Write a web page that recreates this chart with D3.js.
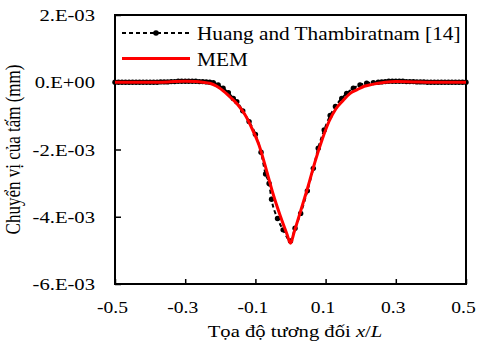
<!DOCTYPE html>
<html>
<head>
<meta charset="utf-8">
<script src="https://cdn.jsdelivr.net/npm/d3@7"></script>
<style>
  body { margin: 0; background: #fff; }
  text { font-family: "Liberation Serif", "Times New Roman", serif; fill: #000; }
</style>
</head>
<body>
<div id="chart"></div>
<script>
// values in units of 1E-03 mm
const memX = [-0.5, -0.45, -0.4, -0.35, -0.3, -0.27, -0.25, -0.23, -0.21, -0.19, -0.17, -0.15, -0.13, -0.11, -0.09, -0.07, -0.05, -0.03, -0.01, 0.0,
    0.01, 0.03, 0.05, 0.07, 0.09, 0.11, 0.13, 0.15, 0.17, 0.19, 0.21, 0.23, 0.25, 0.27, 0.3, 0.35, 0.4, 0.45, 0.5];
const memY = [0.0, 0.0, 0.0, 0.01, 0.03, 0.02, 0.0, -0.03, -0.12, -0.27, -0.46, -0.67, -0.96, -1.37, -1.86, -2.56, -3.31, -3.95, -4.52, -4.79,
    -4.47, -3.79, -3.10, -2.36, -1.71, -1.16, -0.78, -0.54, -0.33, -0.22, -0.12, -0.07, -0.03, 0.0, 0.02, 0.01, 0.0, 0.0, 0.0];

const huangX = [-0.50, -0.49, -0.48, -0.47, -0.46, -0.45, -0.44, -0.43, -0.42, -0.41, -0.40, -0.39, -0.38, -0.37, -0.36, -0.35, -0.34, -0.33, -0.32, -0.31,
    -0.30, -0.29, -0.28, -0.27, -0.26, -0.25, -0.24, -0.23, -0.220, -0.206, -0.192, -0.177, -0.163, -0.153, -0.136, -0.118, -0.100, -0.084, -0.071, -0.061,
    -0.054, -0.037, -0.021, 0.0, 0.013, 0.029, 0.048, 0.065, 0.079, 0.096, 0.113, 0.128, 0.146, 0.160, 0.179, 0.198, 0.217, 0.236,
    0.25, 0.26, 0.27, 0.28, 0.29, 0.30, 0.31, 0.32, 0.33, 0.34, 0.35, 0.36, 0.37, 0.38, 0.39, 0.40, 0.41, 0.42, 0.43, 0.44, 0.45, 0.46, 0.47, 0.48, 0.49, 0.50];
const huangY = [0.0, 0.0, 0.0, 0.0, 0.0, 0.0, 0.0, 0.0, 0.0, 0.0, 0.0, 0.0, 0.0, 0.01, 0.01, 0.01, 0.02, 0.02, 0.03, 0.03,
    0.03, 0.03, 0.03, 0.03, 0.02, 0.02, 0.01, 0.0, -0.01, -0.08, -0.18, -0.31, -0.48, -0.58, -0.85, -1.17, -1.55, -2.08, -2.73, -3.01,
    -3.48, -4.05, -4.39, -4.72, -4.34, -3.90, -3.23, -2.56, -1.96, -1.42, -0.99, -0.72, -0.48, -0.33, -0.18, -0.08, -0.03, -0.01,
    0.0, 0.01, 0.02, 0.03, 0.03, 0.03, 0.03, 0.03, 0.02, 0.02, 0.02, 0.01, 0.01, 0.01, 0.0, 0.0, 0.0, 0.0, 0.0, 0.0, 0.0, 0.0, 0.0, 0.0, 0.0, 0.0];

const xTicks = [-0.5, -0.3, -0.1, 0.1, 0.3, 0.5];
const xTickLabels = ["-0.5", "-0.3", "-0.1", "0.1", "0.3", "0.5"];
const yTicks = [2, 0, -2, -4, -6];
const yTickLabels = ["2.E-03", "0.E+00", "-2.E-03", "-4.E-03", "-6.E-03"];

const margin = { top: 15, right: 11, bottom: 67, left: 115 };
const W = 477, H = 351;
const width = W - margin.left - margin.right;
const height = H - margin.top - margin.bottom;
const stretch = 1.18; // text in the picture is a bit wide

const svg = d3.select("#chart").append("svg")
    .attr("width", W)
    .attr("height", H);
const g = svg.append("g").attr("transform", `translate(${margin.left}, ${margin.top})`);

const xScale = d3.scaleLinear().domain([-0.5, 0.5]).range([0, width]);
const yScale = d3.scaleLinear().domain([-6, 2]).range([height, 0]);

// axes with inward ticks
const xAxis = d3.axisBottom(xScale).tickValues(xTicks).tickSize(-5).tickSizeOuter(0).tickFormat((d, i) => xTickLabels[i]);
const yAxis = d3.axisLeft(yScale).tickValues(yTicks).tickSize(-6).tickSizeOuter(0).tickFormat((d, i) => yTickLabels[i]);

const gx = g.append("g").attr("transform", `translate(0, ${height})`).call(xAxis);
gx.selectAll("text")
    .attr("x", 0).attr("y", 29).attr("dy", 0)
    .attr("transform", `translate(-3,0) scale(1.12,1)`)
    .style("font-size", "17.5px");
const gy = g.append("g").call(yAxis);
gy.selectAll("text")
    .attr("x", -20 / stretch)
    .attr("transform", `scale(${stretch},1)`)
    .style("font-size", "17.5px");
g.selectAll(".domain").remove();
g.selectAll(".tick line").attr("stroke", "#000").attr("stroke-width", 1.5);

// frame
g.append("rect")
    .attr("width", width).attr("height", height)
    .attr("fill", "none").attr("stroke", "#000").attr("stroke-width", 2);

const huang = huangX.map((x, i) => ({ x, y: huangY[i] }));
const mem = memX.map((x, i) => ({ x, y: memY[i] }));

const line = d3.line().x(d => xScale(d.x)).y(d => yScale(d.y)).curve(d3.curveMonotoneX);

g.append("path").datum(huang)
    .attr("d", line)
    .attr("fill", "none").attr("stroke", "#000").attr("stroke-width", 2).attr("stroke-dasharray", "4,3");

g.selectAll(".dot").data(huang).enter().append("circle")
    .attr("class", "dot")
    .attr("cx", d => xScale(d.x))
    .attr("cy", d => yScale(d.y))
    .attr("r", 2.7)
    .attr("fill", "#000");

g.append("path").datum(mem)
    .attr("d", line)
    .attr("fill", "none").attr("stroke", "#ff0000").attr("stroke-width", 3);

// legend
const lg = svg.append("g");
lg.append("line").attr("x1", 122).attr("x2", 190).attr("y1", 33).attr("y2", 33)
    .attr("stroke", "#000").attr("stroke-width", 2).attr("stroke-dasharray", "4,3");
lg.append("circle").attr("cx", 156).attr("cy", 33).attr("r", 2.8).attr("fill", "#000");
lg.append("text").attr("transform", `translate(197, 39.5) scale(1.15,1)`)
    .style("font-size", "18.5px").text("Huang and Thambiratnam [14]");
lg.append("line").attr("x1", 122).attr("x2", 190).attr("y1", 58.5).attr("y2", 58.5)
    .attr("stroke", "#ff0000").attr("stroke-width", 3);
lg.append("text").attr("transform", `translate(197, 66) scale(1.15,1)`)
    .style("font-size", "18.5px").text("MEM");

// axis titles
svg.append("text")
    .attr("text-anchor", "middle")
    .attr("transform", `translate(295, 337) scale(${stretch},1)`)
    .style("font-size", "17.5px")
    .html('Tọa độ tương đối <tspan font-style="italic">x</tspan>/<tspan font-style="italic">L</tspan>');

svg.append("text")
    .attr("text-anchor", "middle")
    .attr("transform", `translate(20, ${margin.top + height / 2}) rotate(-90) scale(1,${stretch})`)
    .style("font-size", "17px")
    .text("Chuyển vị của tấm (mm)");
</script>
</body>
</html>
